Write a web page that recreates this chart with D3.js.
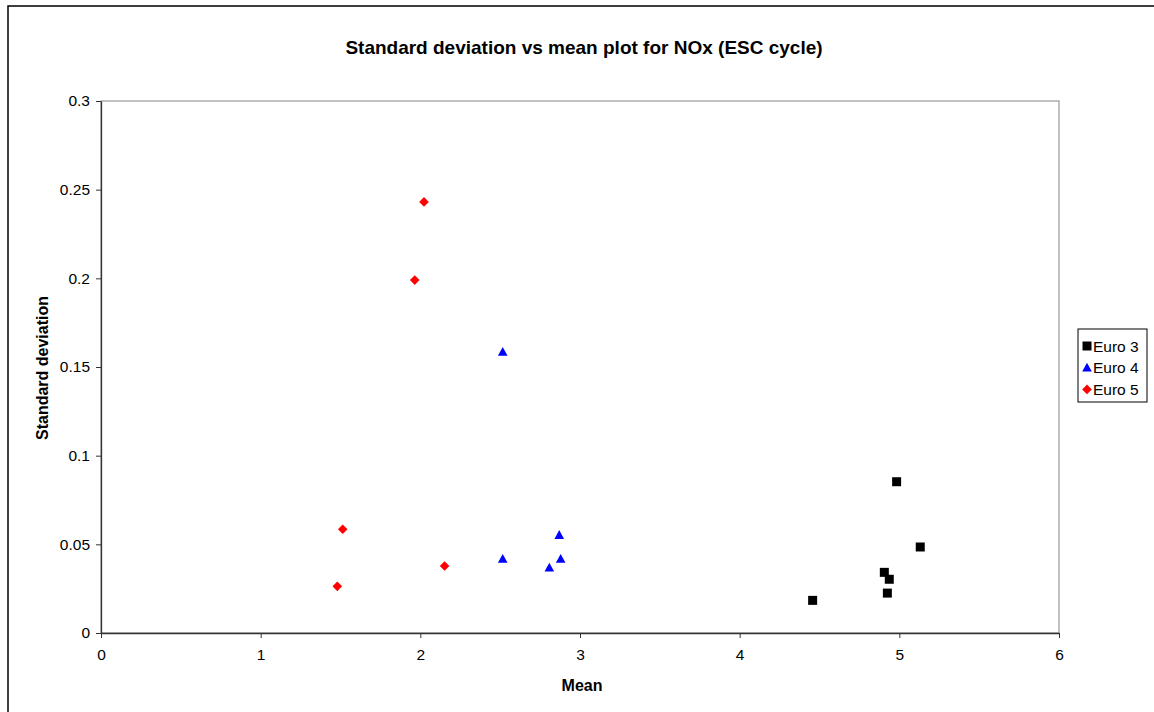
<!DOCTYPE html>
<html>
<head>
<meta charset="utf-8">
<script src="https://cdn.jsdelivr.net/npm/d3@7"></script>
<style>
  html, body { margin: 0; padding: 0; background: #fff; }
  svg { display: block; font-family: "Liberation Sans", Arial, sans-serif; }
</style>
</head>
<body>
<svg id="chart" width="1154" height="712"></svg>
<script>
const xTicks = [0, 1, 2, 3, 4, 5, 6];
const yTicks = [0, 0.05, 0.1, 0.15, 0.2, 0.25, 0.3];
const yTickLabels = ["0", "0.05", "0.1", "0.15", "0.2", "0.25", "0.3"];
const seriesNames = ["Euro 3", "Euro 4", "Euro 5"];
const seriesColors = ["#000000", "#0000ff", "#ff0000"];

const euro3Mean = [4.983, 5.131, 4.906, 4.937, 4.925, 4.457];
const euro3Sd   = [0.0853, 0.0485, 0.0342, 0.0303, 0.0225, 0.0184];
const euro4Mean = [2.516, 2.870, 2.516, 2.879, 2.808];
const euro4Sd   = [0.1585, 0.0552, 0.0417, 0.0417, 0.0368];
const euro5Mean = [2.023, 1.965, 1.514, 2.152, 1.480];
const euro5Sd   = [0.2431, 0.1990, 0.0585, 0.0378, 0.0263];

const series = [
  { name: seriesNames[0], color: seriesColors[0], shape: "square", xs: euro3Mean, ys: euro3Sd },
  { name: seriesNames[1], color: seriesColors[1], shape: "triangle", xs: euro4Mean, ys: euro4Sd },
  { name: seriesNames[2], color: seriesColors[2], shape: "diamond", xs: euro5Mean, ys: euro5Sd }
];

const svg = d3.select("#chart");
const plot = { left: 101, top: 101, right: 1059, bottom: 633 };

// outer frame
svg.append("rect").attr("x", 8).attr("y", 6).attr("width", 1160).attr("height", 720)
  .attr("fill", "none").attr("stroke", "#000").attr("stroke-width", 1.5);

const x = d3.scaleLinear().domain([0, 6]).range([plot.left, plot.right]);
const y = d3.scaleLinear().domain([0, 0.3]).range([plot.bottom, plot.top]);

// plot area border (gray)
svg.append("rect").attr("x", plot.left).attr("y", plot.top)
  .attr("width", plot.right - plot.left).attr("height", plot.bottom - plot.top)
  .attr("fill", "none").attr("stroke", "#a0a0a0").attr("stroke-width", 1.3);

// axes
const xAxis = d3.axisBottom(x).tickValues(xTicks).tickSize(5).tickSizeOuter(0).tickPadding(11)
  .tickFormat(d3.format("d"));
const yAxis = d3.axisLeft(y).tickValues(yTicks).tickSize(5).tickSizeOuter(0).tickPadding(6)
  .tickFormat((d, i) => yTickLabels[i]);

const gx = svg.append("g").attr("transform", `translate(0,${plot.bottom})`).call(xAxis);
const gy = svg.append("g").attr("transform", `translate(${plot.left},0)`).call(yAxis);
[gx, gy].forEach(g => {
  g.select(".domain").attr("stroke", "#333").attr("stroke-width", 1.3);
  g.selectAll(".tick line").attr("stroke", "#333");
  g.selectAll(".tick text").attr("font-size", 15.5).attr("fill", "#000")
    .attr("font-family", "'Liberation Sans', Arial, sans-serif");
});

// title
svg.append("text").attr("x", 584).attr("y", 54).attr("text-anchor", "middle")
  .attr("font-size", 19).attr("font-weight", "bold").text("Standard deviation vs mean plot for NOx (ESC cycle)");

// axis labels
svg.append("text").attr("x", 582).attr("y", 691).attr("text-anchor", "middle")
  .attr("font-size", 16).attr("font-weight", "bold").text("Mean");
svg.append("text").attr("transform", "translate(48,368) rotate(-90)").attr("text-anchor", "middle")
  .attr("font-size", 16).attr("font-weight", "bold").text("Standard deviation");

// symbols
function shapePath(shape, cx, cy) {
  if (shape === "square") {
    return `M${cx-4.5},${cy-4.5}h9v9h-9Z`;
  } else if (shape === "triangle") {
    return `M${cx},${cy-5}L${cx+4.8},${cy+3.8}L${cx-4.8},${cy+3.8}Z`;
  } else {
    return `M${cx},${cy-4.8}L${cx+4.8},${cy}L${cx},${cy+4.8}L${cx-4.8},${cy}Z`;
  }
}

series.forEach(s => {
  const pts = s.xs.map((v, i) => ({ x: v, y: s.ys[i] }));
  svg.append("g").selectAll("path").data(pts).join("path")
    .attr("d", d => shapePath(s.shape, x(d.x), y(d.y)))
    .attr("fill", s.color);
});

// legend
const lg = svg.append("g");
lg.append("rect").attr("x", 1078).attr("y", 329).attr("width", 69).attr("height", 73)
  .attr("fill", "#fff").attr("stroke", "#000").attr("stroke-width", 1);
series.forEach((s, i) => {
  const cy = 346 + i * 21.7;
  lg.append("path").attr("d", shapePath(s.shape, 1087, cy)).attr("fill", s.color);
  lg.append("text").attr("x", 1093).attr("y", cy + 5.5).attr("font-size", 15.5).text(s.name);
});
</script>
</body>
</html>
